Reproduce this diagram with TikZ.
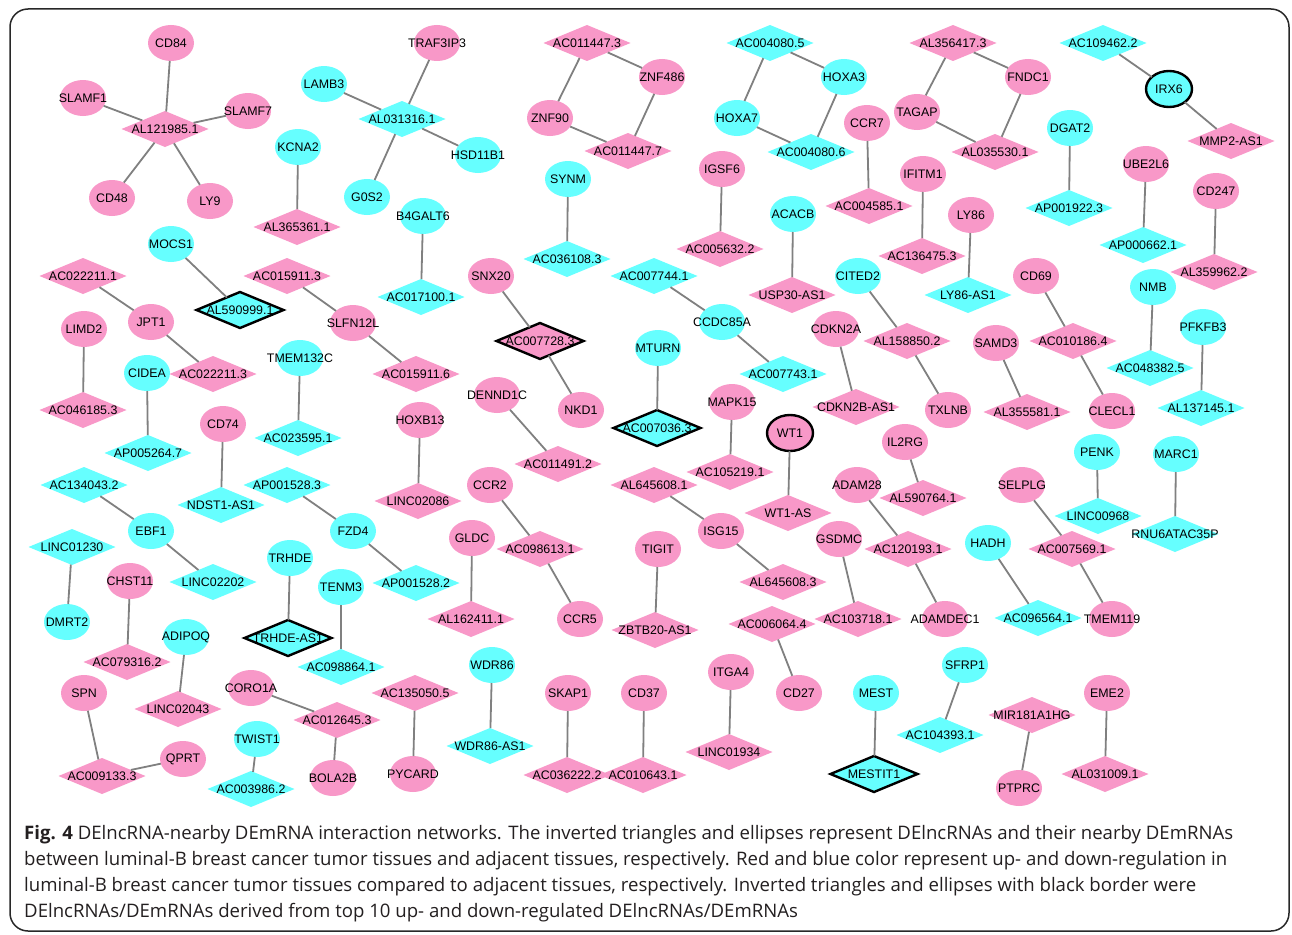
\documentclass[tikz,border=0pt]{standalone}
\usepackage{fontspec}
\usetikzlibrary{shapes.geometric}
\newfontfamily\labfont{Liberation Sans}
\newfontfamily\capfont{Open Sans}
\definecolor{upc}{RGB}{248,152,200}
\definecolor{dnc}{RGB}{102,255,255}
\definecolor{edgec}{RGB}{128,128,128}
\definecolor{framec}{RGB}{40,40,40}
\definecolor{capc}{RGB}{35,31,32}
\newcommand\T[1]{\makebox[0pt]{#1}}
\tikzset{
  base/.style={inner sep=0pt, outer sep=0pt, text=black, font=\labfont\fontsize{12.4}{12}\selectfont},
  ell/.style={base, ellipse, minimum width=46pt, minimum height=36pt},
  dia/.style={base, diamond, minimum width=87pt, minimum height=36pt},
  up/.style={fill=upc},
  dn/.style={fill=dnc},
  top10/.style={draw=black, line width=2.4pt},
  link/.style={draw=edgec, line width=1.8pt},
  capline/.style={anchor=base west, inner sep=0pt, text=capc, font=\capfont\fontsize{18.6}{20}\selectfont}
}
\begin{document}
\begin{tikzpicture}[x=1pt,y=-1pt]
\useasboundingbox (0,0) rectangle (1292,934);
\fill[white] (0,0) rectangle (1292,934);
\draw[framec, line width=1.5pt, rounded corners=18pt] (10,9) rectangle (1289,931);

% ---- ellipses, up-regulated (pink)
\foreach \n/\x/\y/\t in {CD84/171/43/CD84, SLAMFa/83/98/SLAMF1, SLAMFg/248/111/SLAMF7, CDxlviii/112/198/CD48, LYix/210/201/LY9,
  TRAF/437/43/TRAF3IP3, ZNFxc/550/118/ZNF90, ZNFcd/662/77/ZNF486, IGSF/722/169/IGSF6, CCRvii/867/123/CCR7,
  TAGAP/917/112/TAGAP, FNDC/1028/77/FNDC1, IFITM/923/174/IFITM1, LYlxxxvi/971/215/LY86, UBE/1146/164/UBE2L6,
  CDccxlvii/1216/191/CD247, JPT/151/322/JPT1, LIMD/84/329/LIMD2, CDlxxiv/223/424/CD74, SLFN/353/323/SLFN12L,
  SNX/491/276/SNX20, NKD/581/410/NKD1, DENN/497/395/DENND1C, HOXB/420/420/HOXB13, CCRii/490/485/CCR2,
  CDKN/836/329/CDKN2A, TXLNB/948/410/TXLNB, MAPK/732/402/MAPK15, ILRG/905/442/IL2RG, ADAM/857/485/ADAM28,
  ISG/721/531/ISG15, CDlxix/1036/276/CD69, SAMD/996/343/SAMD3, CLECL/1112/411/CLECL1, SELPLG/1022/485/SELPLG,
  CHST/130/581/CHST11, SPN/84/693/SPN, CORO/251/688/CORO1A, QPRT/183/759/QPRT, BOLA/333/778/BOLA2B,
  GLDC/472/538/GLDC, CCRv/580/619/CCR5, SKAP/568/693/SKAP1, PYCARD/413/774/PYCARD, CDxxxvii/644/693/CD37,
  TIGIT/658/549/TIGIT, GSDMC/839/539/GSDMC, ADAMDEC/945/619/ADAMDEC1, ITGA/731/672/ITGA4, CDxxvii/799/693/CD27,
  TMEM/1112/619/TMEM119, EME/1107/693/EME2, PTPRC/1019/788/PTPRC}
  \node[ell,up] (\n) at (\x,\y) {\T{\t}};
\node[ell,up,top10] (WTa) at (790,433) {\T{WT1}};

% ---- ellipses, down-regulated (cyan)
\foreach \n/\x/\y/\t in {LAMB/324/84/LAMB3, KCNA/298/147/KCNA2, MOCS/171/244/MOCS1, HSD/478/155/HSD11B1, GOS/367/197/G0S2,
  BGALT/423/216/B4GALT6, SYNM/568/179/SYNM, HOXAc/844/77/HOXA3, HOXAg/737/118/HOXA7, ACACB/793/214/ACACB,
  DGAT/1070/128/DGAT2, CIDEA/147/373/CIDEA, TMEMc/300/358/TMEM132C, EBF/151/531/EBF1, MTURN/658/348/MTURN,
  CCDC/722/322/CCDC85A, CITED/858/276/CITED2, NMB/1153/287/NMB, PFKFB/1203/327/PFKFB3, PENK/1097/452/PENK,
  MARC/1176/454/MARC1, TRHDE/290/558/TRHDE, DMRT/67/622/DMRT2, ADIPOQ/186/637/ADIPOQ, TWIST/257/739/TWIST1,
  FZD/353/531/FZD4, TENM/341/587/TENM3, WDR/492/665/WDR86, MEST/876/693/MEST, SFRP/965/665/SFRP1, HADH/988/543/HADH}
  \node[ell,dn] (\n) at (\x,\y) {\T{\t}};
\node[ell,dn,top10] (IRX) at (1169,89) {\T{IRX6}};

% ---- diamonds, up-regulated (pink)
\foreach \n/\x/\y/\t in {ALa/165/129/AL121985.1, ALb/297/227/AL365361.1, ACa/587/43/AC011447.3, ACb/628/151/AC011447.7,
  ACc/720/249/AC005632.2, ACd/869/206/AC004585.1, ALc/953/43/AL356417.3, ALd/995/152/AL035530.1, ACe/922/256/AC136475.3,
  MMP/1231/141/MMP2-AS1, ALe/1214/272/AL359962.2, ACf/83/276/AC022211.1, ACg/287/276/AC015911.3, ACh/213/374/AC022211.3,
  ACi/83/410/AC046185.3, ACj/416/374/AC015911.6, ACk/558/464/AC011491.2, LINCa/418/501/LINC02086,
  USP/792/295/USP30-AS1, ALf/907/341/AL158850.2, CDKNB/856/407/CDKN2B-AS1, ACl/730/472/AC105219.1,
  ALg/654/485/AL645608.1, ALh/923/498/AL590764.1, WTAS/788/513/WT1-AS, ACm/1073/341/AC010186.4,
  ALi/1027/412/AL355581.1, ACn/127/662/AC079316.2, LINCb/178/709/LINC02043, ACo/102/776/AC009133.3,
  ACp/540/549/AC098613.1, ALj/471/619/AL162411.1, ACq/415/693/AC135050.5, ACr/337/720/AC012645.3,
  ACs/567/775/AC036222.2, ACt/643/775/AC010643.1, ZBTB/655/630/ZBTB20-AS1, ACu/908/549/AC120193.1,
  ALk/783/582/AL645608.3, ACv/772/624/AC006064.4, ACw/858/619/AC103718.1, LINCc/729/752/LINC01934,
  ACx/1072/549/AC007569.1, MIR/1032/715/MIR181A1HG, ALl/1105/774/AL031009.1}
  \node[dia,up] (\n) at (\x,\y) {\T{\t}};
\node[dia,up,top10] (ACy) at (540,341) {\T{AC007728.3}};

% ---- diamonds, down-regulated (cyan)
\foreach \n/\x/\y/\t in {ALm/402/119/AL031316.1, DCa/567/259/AC036108.3, DCb/770/43/AC004080.5, DCc/811/152/AC004080.6,
  DCd/1103/43/AC109462.2, APa/1069/208/AP001922.3, APb/1143/245/AP000662.1, DCe/421/297/AC017100.1,
  APc/148/453/AP005264.7, DCf/298/438/AC023595.1, DCg/84/485/AC134043.2, NDST/221/505/NDST1-AS1,
  APd/287/485/AP001528.3, DCh/654/276/AC007744.1, DCi/783/374/AC007743.1, LYAS/968/295/LY86-AS1,
  DCj/1150/368/AC048382.5, ALn/1201/408/AL137145.1, LINCd/1098/516/LINC00968, RNU/1175/534/RNU6ATAC35P,
  LINCe/72/547/LINC01230, LINCf/213/582/LINC02202, DCk/251/789/AC003986.2, APe/416/583/AP001528.2,
  DCl/341/667/AC098864.1, WDRAS/490/746/WDR86-AS1, DCm/940/735/AC104393.1, DCn/1038/618/AC096564.1}
  \node[dia,dn] (\n) at (\x,\y) {\T{\t}};
\node[dia,dn,top10] (ALo) at (240,310) {\T{AL590999.1}};
\node[dia,dn,top10] (DCo) at (657,428) {\T{AC007036.3}};
\node[dia,dn,top10] (TRAS) at (288,638) {\T{TRHDE-AS1}};
\node[dia,dn,top10] (MESTIT) at (874,774) {\T{MESTIT1}};

% ---- connectors
\foreach \a/\b in {CD84/ALa, SLAMFa/ALa, SLAMFg/ALa, CDxlviii/ALa, LYix/ALa, KCNA/ALb,
  TRAF/ALm, LAMB/ALm, HSD/ALm, GOS/ALm, ACa/ZNFxc, ACa/ZNFcd, ZNFxc/ACb, ZNFcd/ACb,
  SYNM/DCa, BGALT/DCe, DCb/HOXAg, DCb/HOXAc, HOXAg/DCc, HOXAc/DCc, IGSF/ACc, CCRvii/ACd,
  ACACB/USP, ALc/TAGAP, ALc/FNDC, TAGAP/ALd, FNDC/ALd, IFITM/ACe, DCd/IRX, IRX/MMP,
  DGAT/APa, UBE/APb, CDccxlvii/ALe, MOCS/ALo, ACf/JPT, JPT/ACh, LIMD/ACi, CIDEA/APc,
  TMEMc/DCf, CDlxxiv/NDST, DCg/EBF, APd/FZD, ACg/SLFN, SLFN/ACj, SNX/ACy, ACy/NKD,
  DENN/ACk, HOXB/LINCa, CCRii/ACp, MTURN/DCo, DCh/CCDC, CCDC/DCi, CITED/ALf, ALf/TXLNB,
  CDKN/CDKNB, MAPK/ACl, WTa/WTAS, ILRG/ALh, ALg/ISG, ADAM/ACu, LYlxxxvi/LYAS, CDlxix/ACm,
  ACm/CLECL, SAMD/ALi, NMB/DCj, PFKFB/ALn, PENK/LINCd, MARC/RNU, SELPLG/ACx, EBF/LINCf,
  LINCe/DMRT, CHST/ACn, TRHDE/TRAS, ADIPOQ/LINCb, SPN/ACo, QPRT/ACo, CORO/ACr, TWIST/DCk,
  FZD/APe, TENM/DCl, GLDC/ALj, ACp/CCRv, WDR/WDRAS, ACq/PYCARD, ACr/BOLA, SKAP/ACs,
  CDxxxvii/ACt, TIGIT/ZBTB, ISG/ALk, GSDMC/ACw, ACu/ADAMDEC, ACv/CDxxvii, ITGA/LINCc,
  MEST/MESTIT, SFRP/DCm, HADH/DCn, ACx/TMEM, EME/ALl, MIR/PTPRC}
  \draw[link] (\a) -- (\b);

% ---- caption
\node[capline] (c1) at (24,839) {\textbf{Fig. 4} DElncRNA-nearby DEmRNA interaction networks. The inverted triangles and ellipses represent DElncRNAs and their nearby DEmRNAs};
\node[capline] (c2) at (24,865) {between luminal-B breast cancer tumor tissues and adjacent tissues, respectively. Red and blue color represent up- and down-regulation in};
\node[capline] (c3) at (24,891) {luminal-B breast cancer tumor tissues compared to adjacent tissues, respectively. Inverted triangles and ellipses with black border were};
\node[capline] (c4) at (24,917) {DElncRNAs/DEmRNAs derived from top 10 up- and down-regulated DElncRNAs/DEmRNAs};
\end{tikzpicture}
\end{document}
